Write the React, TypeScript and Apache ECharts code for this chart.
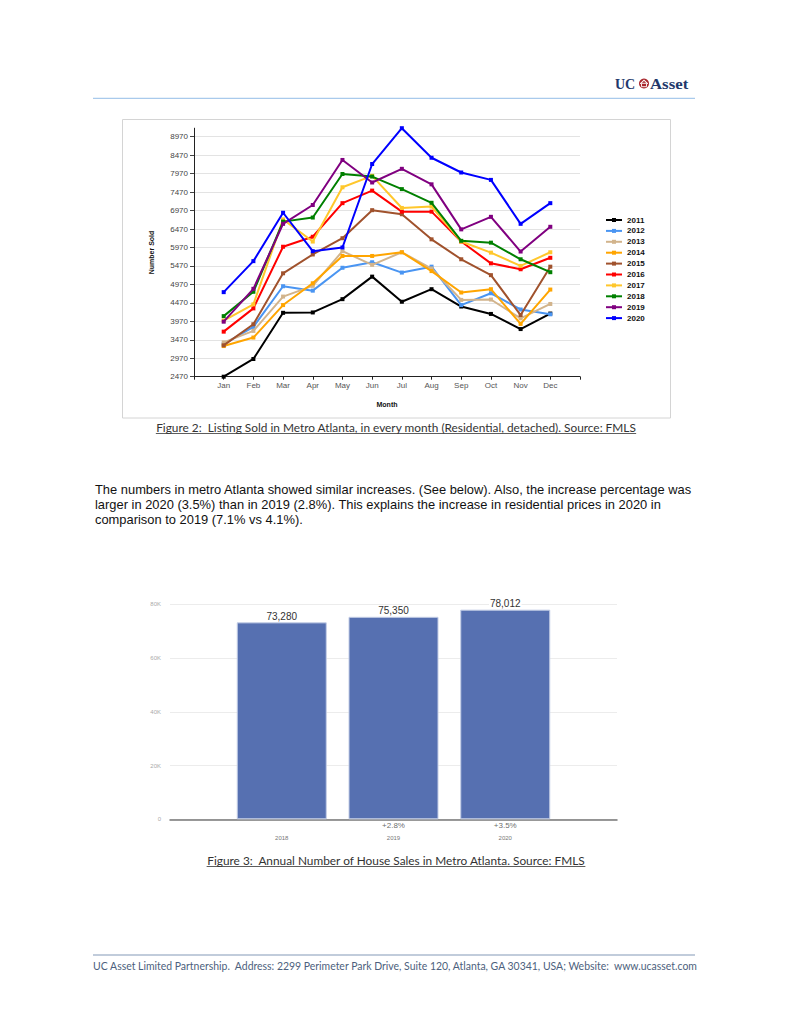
import React, { useEffect, useRef } from "react";
import * as echarts from "echarts";

// ---------- Figure 2 data ----------
const months = ["Jan", "Feb", "Mar", "Apr", "May", "Jun", "Jul", "Aug", "Sep", "Oct", "Nov", "Dec"];
const years = ["2011", "2012", "2013", "2014", "2015", "2016", "2017", "2018", "2019", "2020"];
const sold2011 = [2470, 2950, 4200, 4210, 4570, 5180, 4500, 4840, 4370, 4170, 3760, 4180];
const sold2012 = [3350, 3820, 4920, 4800, 5420, 5570, 5290, 5450, 4410, 4730, 4290, 4160];
const sold2013 = [3400, 3710, 4640, 4930, 5870, 5500, 5840, 5400, 4550, 4560, 4050, 4440];
const sold2014 = [3300, 3530, 4410, 5000, 5740, 5740, 5840, 5330, 4750, 4840, 3900, 4830];
const sold2015 = [3320, 3890, 5270, 5780, 6220, 6980, 6870, 6190, 5650, 5220, 4140, 5450];
const sold2016 = [3690, 4320, 5990, 6260, 7170, 7510, 6940, 6940, 6130, 5540, 5380, 5690];
const sold2017 = [3990, 4430, 6730, 6130, 7600, 7910, 7040, 7080, 6130, 5830, 5470, 5840];
const sold2018 = [4110, 4770, 6670, 6780, 7960, 7890, 7550, 7180, 6150, 6100, 5650, 5300];
const sold2019 = [3960, 4850, 6610, 7120, 8340, 7730, 8100, 7680, 6460, 6800, 5860, 6530];
const sold2020 = [4760, 5600, 6910, 5870, 5970, 8230, 9200, 8400, 8000, 7800, 6610, 7170];
const soldByYear = [sold2011, sold2012, sold2013, sold2014, sold2015, sold2016, sold2017, sold2018, sold2019, sold2020];
const yearColors = ["#000000", "#4a95f2", "#d2b48c", "#ffa500", "#a0522d", "#ff0000", "#ffc72c", "#008000", "#800080", "#0000ff"];

// ---------- Figure 3 data ----------
const barYears = ["2018", "2019", "2020"];
const annualSales = [73280, 75350, 78012];
const annualChange = ["", "+2.8%", "+3.5%"];

// ---------- texts ----------
const bodyText =
  "The numbers in metro Atlanta showed similar increases. (See below). Also, the increase percentage was\n" +
  "larger in 2020 (3.5%) than in 2019 (2.8%). This explains the increase in residential prices in 2020 in\n" +
  "comparison to 2019 (7.1% vs 4.1%).";
const caption2 = "Figure 2:  Listing Sold in Metro Atlanta, in every month (Residential, detached). Source: FMLS";
const caption3 = "Figure 3:  Annual Number of House Sales in Metro Atlanta. Source: FMLS";
const footerText =
  "UC Asset Limited Partnership.  Address: 2299 Perimeter Park Drive, Suite 120, Atlanta, GA 30341, USA; Website:  www.ucasset.com";

const SANS = "'Liberation Sans', Arial, sans-serif";
const CAP = "Lato, 'Open Sans', sans-serif";

function measure(text: string, font: string): number {
  const c = document.createElement("canvas").getContext("2d");
  if (!c) return text.length * 5;
  c.font = font;
  return c.measureText(text).width;
}

export default function App() {
  const ref = useRef<HTMLDivElement>(null);

  useEffect(() => {
    if (!ref.current) return;
    const chart = echarts.init(ref.current, null, { renderer: "svg" });

    const capFont = "11.85px " + CAP;
    const w2 = measure(caption2, capFont);
    const w3 = measure(caption3, capFont);

    const option: any = {
      animation: false,
      backgroundColor: "#ffffff",
      textStyle: { fontFamily: SANS },
      legend: {
        data: years,
        orient: "vertical",
        left: 600,
        top: 211,
        itemWidth: 16,
        itemHeight: 5,
        itemGap: 2.9,
        textStyle: { fontSize: 8, fontWeight: "bold", color: "#111", fontFamily: SANS },
      },
      grid: [
        { left: 194, top: 128.2, width: 386, height: 248.5, outerBoundsMode: "none" },
        { left: 170, top: 604.3, width: 447, height: 215, outerBoundsMode: "none" },
      ],
      xAxis: [
        {
          type: "value",
          gridIndex: 0,
          min: 0,
          max: 13,
          interval: 1,
          name: "Month",
          nameLocation: "middle",
          nameGap: 24,
          nameTextStyle: { fontSize: 7, fontWeight: "bold", color: "#111" },
          axisLine: { show: true, lineStyle: { color: "#222", width: 1 } },
          axisTick: { show: true, length: 3, lineStyle: { color: "#222" } },
          axisLabel: {
            fontSize: 8,
            color: "#555",
            margin: 5,
            formatter: (v: number) => months[v - 1] || "",
          },
          splitLine: { show: false },
        },
        {
          type: "value",
          gridIndex: 1,
          min: 0,
          max: 4,
          interval: 1,
          offset: 10,
          axisLine: { show: true, lineStyle: { color: "#777", width: 1.5 } },
          axisTick: { show: false },
          axisLabel: {
            fontSize: 6,
            color: "#777",
            margin: 6,
            formatter: (v: number) => barYears[v - 1] || "",
          },
          splitLine: { show: false },
        },
      ],
      yAxis: [
        {
          type: "value",
          gridIndex: 0,
          min: 2470,
          max: 9200,
          interval: 500,
          name: "Number Sold",
          nameLocation: "middle",
          nameGap: 39,
          nameRotate: 90,
          nameTextStyle: { fontSize: 7, fontWeight: "bold", color: "#111" },
          axisLine: { show: true, lineStyle: { color: "#222", width: 1 } },
          axisTick: { show: true, length: 4, lineStyle: { color: "#444" } },
          axisLabel: { fontSize: 8, color: "#444", margin: 6, showMaxLabel: false, formatter: (v: number) => String(v) },
          splitLine: { show: true, showMaxLine: false, lineStyle: { color: "#e3e3e3", width: 1 } },
        },
        {
          type: "value",
          gridIndex: 1,
          min: 0,
          max: 80000,
          interval: 20000,
          axisLine: { show: false },
          axisTick: { show: false },
          axisLabel: {
            fontSize: 6,
            color: "#aaa",
            margin: 9,
            formatter: (v: number) => (v === 0 ? "0" : v / 1000 + "K"),
          },
          splitLine: { show: true, lineStyle: { color: "#ececec", width: 1 } },
        },
      ],
      series: [
        ...years.map((y, k) => ({
          type: "line",
          name: y,
          xAxisIndex: 0,
          yAxisIndex: 0,
          data: soldByYear[k].map((v, i) => [i + 1, v]),
          symbol: "rect",
          symbolSize: 4,
          showSymbol: true,
          lineStyle: { width: 2, color: yearColors[k] },
          itemStyle: { color: yearColors[k] },
          z: 2 + k,
        })),
        {
          type: "bar",
          name: "Annual",
          xAxisIndex: 1,
          yAxisIndex: 1,
          data: annualSales.map((v, i) => [i + 1, v]),
          barWidth: 90,
          itemStyle: { color: "#5670b1", borderColor: "#c3cde6", borderWidth: 1 },
          label: {
            show: true,
            position: "top",
            distance: 1,
            fontSize: 10,
            color: "#333",
            backgroundColor: "#ffffff",
            padding: [0, 1],
            formatter: (p: any) => Number(p.value[1]).toLocaleString("en-US"),
          },
        },
        {
          type: "scatter",
          name: "Change",
          xAxisIndex: 1,
          yAxisIndex: 1,
          data: annualChange.map((c, i) => [i + 1, 0]),
          symbol: "circle",
          symbolSize: 2,
          itemStyle: { color: "rgba(255,255,255,0)" },
          silent: true,
          z: 10,
          label: {
            show: true,
            position: "bottom",
            distance: 1,
            fontSize: 8,
            color: "#444",
            formatter: (p: any) => annualChange[p.dataIndex],
          },
          labelLayout: { hideOverlap: false },
        },
      ],
      graphic: [
        // header logo
        {
          type: "text",
          x: 615,
          y: 84,
          style: { text: "UC", font: "bold 14px 'Liberation Serif', 'DejaVu Serif', serif", fill: "#22386b", verticalAlign: "middle" },
        },
        { type: "circle", shape: { cx: 644, cy: 83.5, r: 5 }, style: { fill: "#a8262c" } },
        {
          type: "polyline",
          shape: { points: [[640.2, 83.8], [644, 80.2], [647.8, 83.8]] },
          style: { stroke: "#ffffff", lineWidth: 1.1, fill: "none" },
        },
        { type: "rect", shape: { x: 641.5, y: 83.3, width: 5, height: 3.4 }, style: { fill: "none", stroke: "#ffffff", lineWidth: 0.9 } },
        {
          type: "text",
          x: 650,
          y: 84,
          scaleX: 1.2,
          style: { text: "Asset", font: "bold 14px 'Liberation Serif', 'DejaVu Serif', serif", fill: "#22386b", verticalAlign: "middle" },
        },
        { type: "line", shape: { x1: 93, y1: 98.3, x2: 695, y2: 98.3 }, style: { stroke: "#a9caec", lineWidth: 1.3 } },
        // figure 2 frame
        { type: "rect", shape: { x: 122.5, y: 119.5, width: 548, height: 298.5 }, style: { fill: "none", stroke: "#d4d4d4", lineWidth: 1 } },
        // caption 2
        {
          type: "text",
          x: 396,
          y: 427,
          style: { text: caption2, font: capFont, fill: "#333", align: "center", verticalAlign: "middle" },
        },
        { type: "line", shape: { x1: 396 - w2 / 2, y1: 433.5, x2: 396 + w2 / 2, y2: 433.5 }, style: { stroke: "#333", lineWidth: 0.8 } },
        // body text
        {
          type: "text",
          x: 95,
          y: 481.5,
          style: { text: bodyText, font: "12.9px " + SANS, fill: "#111", lineHeight: 15, verticalAlign: "top" },
        },
        // caption 3
        {
          type: "text",
          x: 396,
          y: 860,
          style: { text: caption3, font: capFont, fill: "#333", align: "center", verticalAlign: "middle" },
        },
        { type: "line", shape: { x1: 396 - w3 / 2, y1: 866.5, x2: 396 + w3 / 2, y2: 866.5 }, style: { stroke: "#333", lineWidth: 0.8 } },
        // footer
        { type: "line", shape: { x1: 93, y1: 955, x2: 695, y2: 955 }, style: { stroke: "#8499b8", lineWidth: 1.2 } },
        {
          type: "text",
          x: 395,
          y: 966,
          style: { text: footerText, font: "10.45px " + CAP, fill: "#4d5f7d", align: "center", verticalAlign: "middle" },
        },
      ],
    };

    chart.setOption(option);
    return () => chart.dispose();
  }, []);

  return (
    <div
      ref={ref}
      style={{ position: "fixed", left: 0, top: 0, width: 791, height: 1024, background: "#fff" }}
    />
  );
}
